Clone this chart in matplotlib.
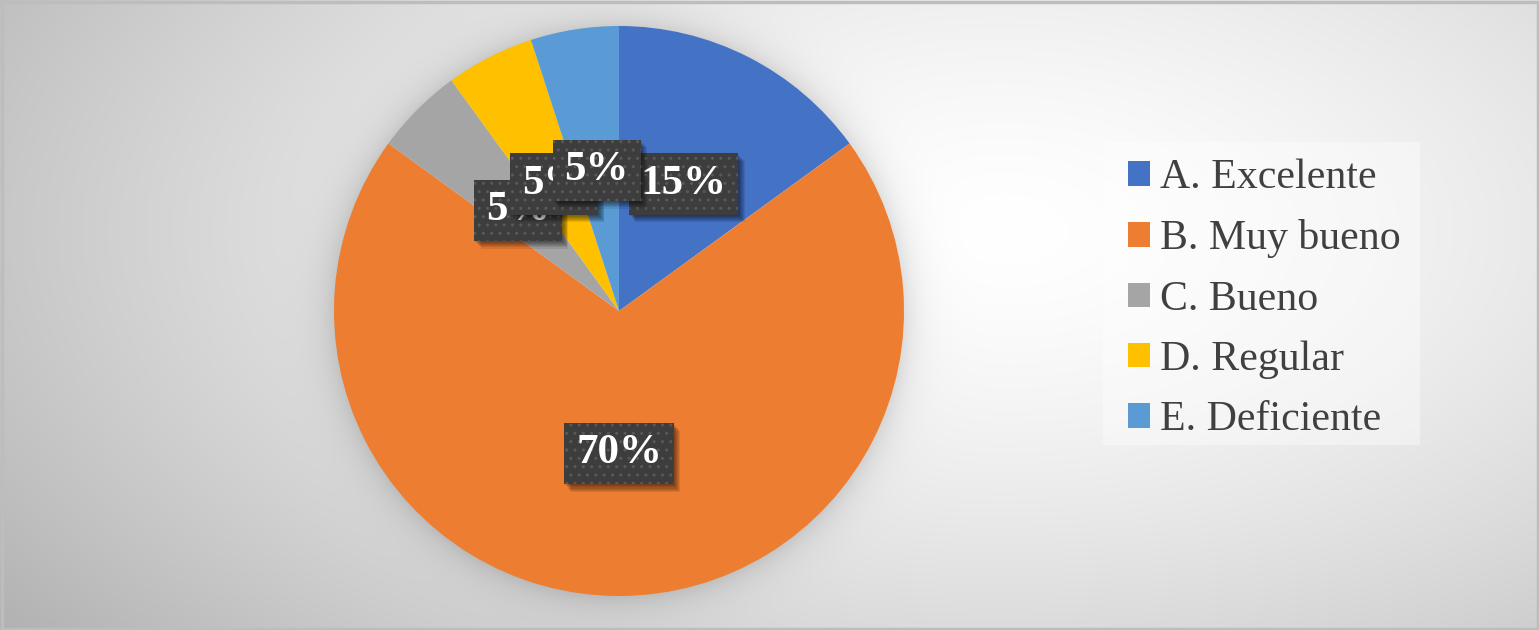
import numpy as np
import matplotlib.pyplot as plt
from matplotlib.patches import Rectangle

categories = ["A. Excelente", "B. Muy bueno", "C. Bueno", "D. Regular", "E. Deficiente"]
values = [15, 70, 5, 5, 5]
colors = ["#4472C4", "#ED7D31", "#A5A5A5", "#FFC000", "#5B9BD5"]

W, H = 1539, 630
cx, cy, R = 619, 319, 285

fig = plt.figure(figsize=(W / 100, H / 100), dpi=100)
ax = fig.add_axes([0, 0, 1, 1])

# background: soft radial gradient + shadow around the pie
yy, xx = np.mgrid[0:H, 0:W]
yy = H - yy
d = np.sqrt(((xx - 1000) / 1050) ** 2 + ((yy - 400) / 560) ** 2)
g = 255 - 60 * np.clip(d, 0, 1.2) ** 1.5
dp = np.sqrt((xx - cx) ** 2 + (yy - cy) ** 2) - R
g = g - 28 * np.exp(-np.clip(dp, 0, None) / 16) * (dp > -2)
g = np.clip(g, 0, 255) / 255
ax.imshow(np.dstack([g, g, g]), extent=(0, W, 0, H), origin="upper", zorder=0)

# border
ax.plot([1.5, 1.5, W - 1.5, W - 1.5, 1.5], [1.5, H - 1.5, H - 1.5, 1.5, 1.5],
        color="#bdbdbd", lw=2.5, zorder=1)

wedges, texts, autotexts = ax.pie(
    values, colors=colors, startangle=90, counterclock=False,
    center=(cx, cy), radius=R, autopct="%1.0f%%", pctdistance=0.5,
    wedgeprops=dict(linewidth=0), frame=True)
ax.set_xlim(0, W)
ax.set_ylim(0, H)
ax.set_aspect("equal")
ax.axis("off")

for i, t in enumerate(autotexts):
    t.set_fontfamily("Liberation Serif")
    t.set_fontweight("bold")
    t.set_fontsize(31)
    t.set_color("white")
    t.set_zorder(5 + i)
    t.set_bbox(dict(boxstyle="square,pad=0.27", fc="#3d3d3d", ec="#595959",
                    lw=0, hatch=".."))

# soft shadows under the label boxes
fig.canvas.draw()
for i, t in enumerate(autotexts):
    bb = t.get_bbox_patch().get_window_extent()
    for k in range(1, 8):
        ax.add_patch(Rectangle((bb.x0 + k * 0.9, bb.y0 - k * 1.1), bb.width, bb.height,
                               facecolor="k", alpha=0.09, lw=0, zorder=4.9 + i))

# legend panel
ax.add_patch(Rectangle((1103, H - 445), 317, 303, facecolor="white", alpha=0.4,
                       lw=0, zorder=2))
leg = ax.legend(wedges, categories, loc="upper left",
                bbox_to_anchor=(1128 / W, 1 - 159 / H), bbox_transform=fig.transFigure,
                prop=dict(family="Liberation Serif", size=30.2),
                labelcolor="#404040", handlelength=0.52, handleheight=0.52,
                handletextpad=0.24, labelspacing=0.52, borderpad=0,
                borderaxespad=0, frameon=False)

fig.savefig("out.png", dpi=100)
